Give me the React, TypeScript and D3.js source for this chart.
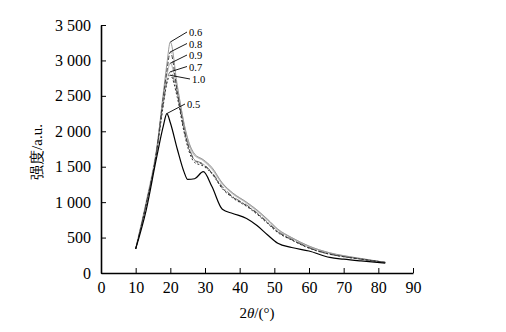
import React, { useEffect, useRef } from 'react';
import * as d3 from 'd3';

// 2θ positions shared by all series
const angles = [10, 13, 16, 18, 19, 20, 22, 24, 25, 27, 29.5, 32, 35, 38, 42, 45, 48, 51, 55, 60, 66, 70, 75, 82];

const s05 = [340, 880, 1620, 2080, 2250, 2120, 1750, 1420, 1320, 1330, 1430, 1220, 900, 840, 770, 670, 540, 420, 360, 310, 220, 195, 170, 140];
const s06 = [340, 980, 1720, 2550, 2950, 3260, 2650, 2100, 1900, 1680, 1600, 1490, 1270, 1130, 1000, 890, 760, 620, 500, 380, 285, 245, 205, 150];
const s07 = [340, 960, 1700, 2400, 2700, 2840, 2520, 2000, 1830, 1600, 1540, 1420, 1220, 1080, 960, 850, 720, 590, 480, 360, 270, 235, 200, 150];
const s08 = [340, 970, 1710, 2500, 2850, 3120, 2560, 2030, 1820, 1590, 1530, 1410, 1200, 1070, 950, 840, 710, 580, 470, 355, 265, 230, 195, 150];
const s09 = [340, 990, 1730, 2450, 2800, 2960, 2600, 2080, 1880, 1660, 1590, 1470, 1260, 1120, 990, 880, 750, 610, 495, 375, 280, 240, 200, 150];
const s10 = [340, 960, 1690, 2380, 2680, 2790, 2480, 1980, 1780, 1560, 1510, 1400, 1190, 1060, 940, 830, 700, 570, 465, 350, 265, 230, 195, 150];

const seriesNames = ['0.5', '0.6', '0.7', '0.8', '0.9', '1.0'];
const seriesValues = [s05, s06, s07, s08, s09, s10];
const seriesColors = ['#000', '#9a9a9a', '#777', '#444', '#c0c0c0', '#333'];
const seriesDash = ['none', 'none', '6,2,1,2', '4,2', 'none', '2,2'];
const seriesWidth = [1.2, 1, 1, 1, 1.4, 1];

const xTicks = [0, 10, 20, 30, 40, 50, 60, 70, 80, 90];
const yTicks = [0, 500, 1000, 1500, 2000, 2500, 3000, 3500];

// label placement (text anchor points) for the leader annotations
const labelPos: Record<string, [number, number]> = {
  '0.6': [189, 36],
  '0.8': [189, 47.5],
  '0.9': [189, 59],
  '0.7': [189, 70.5],
  '1.0': [192, 83],
  '0.5': [187, 108],
};

const fmt = (v: number) => (v >= 1000 ? `${Math.floor(v / 1000)} ${String(v % 1000).padStart(3, '0')}` : `${v}`);

export default function App() {
  const ref = useRef<SVGSVGElement>(null);

  useEffect(() => {
    const width = 506;
    const height = 332;
    const margin = { left: 101, top: 25, right: 93, bottom: 59 };
    const svg = d3.select(ref.current);
    svg.selectAll('*').remove();

    const x = d3.scaleLinear().domain([0, 90]).range([margin.left, width - margin.right]);
    const y = d3.scaleLinear().domain([0, 3500]).range([height - margin.bottom, margin.top]);
    const font = '"Liberation Serif", "Times New Roman", serif';

    const line = d3.line<number>()
      .x((_, i) => x(angles[i]))
      .y(d => y(d))
      .curve(d3.curveMonotoneX);

    // draw lighter lines first, black last
    const order = [4, 1, 2, 3, 5, 0];
    order.forEach(k => {
      svg.append('path')
        .attr('d', line(seriesValues[k]))
        .attr('fill', 'none')
        .attr('stroke', seriesColors[k])
        .attr('stroke-width', seriesWidth[k])
        .attr('stroke-dasharray', seriesDash[k]);
    });

    // axes
    const xAxis = d3.axisBottom(x).tickValues(xTicks).tickSizeInner(-5).tickSizeOuter(0).tickPadding(10);
    const yAxis = d3.axisLeft(y).tickValues(yTicks).tickSizeInner(-5).tickSizeOuter(0).tickPadding(10).tickFormat(d => fmt(+d));

    const gx = svg.append('g').attr('transform', `translate(0,${y(0)})`).call(xAxis);
    const gy = svg.append('g').attr('transform', `translate(${x(0)},0)`).call(yAxis);
    [gx, gy].forEach(g => {
      g.select('.domain').attr('stroke', '#000').attr('stroke-width', 1.6);
      g.selectAll('.tick line').attr('stroke', '#000').attr('stroke-width', 1);
      g.selectAll('.tick text').attr('font-family', font).attr('font-size', 16).attr('fill', '#000');
    });
    gx.selectAll('.tick text').attr('dy', '0.71em').attr('y', 9);

    // leader labels
    seriesNames.forEach((name, k) => {
      const vals = seriesValues[k];
      const pk = vals.indexOf(d3.max(vals) as number);
      const [tx, ty] = labelPos[name];
      svg.append('line')
        .attr('x1', x(angles[pk])).attr('y1', y(vals[pk]))
        .attr('x2', tx - 2).attr('y2', ty - 4)
        .attr('stroke', '#000').attr('stroke-width', 0.9);
      svg.append('text')
        .attr('x', tx).attr('y', ty)
        .attr('font-family', font).attr('font-size', 10.5)
        .attr('fill', '#000')
        .text(name);
    });

    // axis titles
    svg.append('text')
      .attr('transform', `translate(42,152) rotate(-90)`)
      .attr('text-anchor', 'middle')
      .attr('font-family', font).attr('font-size', 15)
      .attr('fill', '#000')
      .text('强度/a.u.');

    const xt = svg.append('text')
      .attr('x', 257).attr('y', 318)
      .attr('text-anchor', 'middle')
      .attr('font-family', font).attr('font-size', 15)
      .attr('fill', '#000');
    xt.append('tspan').text('2');
    xt.append('tspan').attr('font-style', 'italic').text('θ');
    xt.append('tspan').text('/(°)');
  }, []);

  return (
    <div style={{ position: 'absolute', left: 0, top: 0 }}>
      <svg ref={ref} width={506} height={332} style={{ display: 'block', background: '#fff' }} />
    </div>
  );
}
